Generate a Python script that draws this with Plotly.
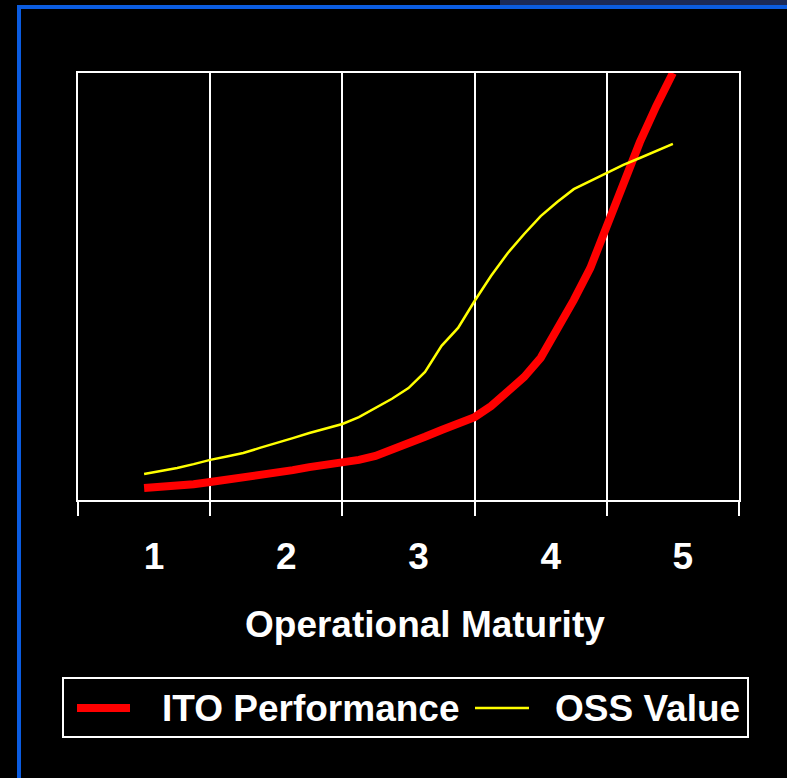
import plotly.graph_objects as go

# ---- data ----
maturity = [1.0, 1.125, 1.25, 1.375, 1.5, 1.625, 1.75, 1.875,
            2.0, 2.125, 2.25, 2.375, 2.5, 2.625, 2.75, 2.875,
            3.0, 3.125, 3.25, 3.375, 3.5, 3.625, 3.75, 3.875,
            4.0, 4.125, 4.25, 4.375, 4.5, 4.625, 4.75, 4.875, 5.0]

ito_performance = [2.8, 3.0, 3.4, 3.7, 4.2, 4.7, 5.3, 5.7,
                   6.3, 7.0, 7.7, 8.2, 8.7, 9.4, 10.3, 11.7,
                   13.1, 14.8, 16.4, 17.8, 19.4, 22.0, 25.3, 28.8,
                   33.3, 39.8, 46.8, 54.3, 64.2, 74.0, 83.8, 92.3, 100.0]

oss_value = [6.1, 6.8, 7.5, 8.4, 9.4, 10.2, 11.0, 12.2,
             13.3, 14.5, 15.7, 16.7, 17.8, 19.4, 21.5, 23.7,
             26.2, 30.0, 36.1, 40.3, 46.6, 52.5, 57.8, 62.3,
             66.5, 69.8, 72.8, 74.7, 76.6, 78.5, 80.1, 81.7, 83.4]

tick_values = [1, 2, 3, 4, 5]
tick_labels = ["1", "2", "3", "4", "5"]
x_title = "Operational Maturity"
series_names = ["ITO Performance", "OSS Value"]

# ---- layout geometry ----
W, H = 787, 778
L, R, T, B = 78, 48, 73, 278
PW, PH = W - L - R, H - T - B


def px(x):
    return (x - L) / PW


def py(y):
    return (H - B - y) / PH


FONT = "Liberation Sans, Arial, sans-serif"
FS = 37
RED = "#ff0000"
YEL = "#ffff00"
BLUE = "#0b5ce0"

fig = go.Figure()
fig.add_trace(go.Scatter(x=maturity, y=ito_performance, mode="lines",
                         name=series_names[0],
                         line=dict(color=RED, width=8), showlegend=False))
fig.add_trace(go.Scatter(x=maturity, y=oss_value, mode="lines",
                         name=series_names[1],
                         line=dict(color=YEL, width=2.5), showlegend=False))

shapes = []
# slide frame (blue) and top banner strip
shapes.append(dict(type="rect", xref="paper", yref="paper",
                   x0=px(500), x1=px(787), y0=py(5), y1=py(0),
                   line=dict(width=0), fillcolor="#1b2a58", layer="below"))
shapes.append(dict(type="rect", xref="paper", yref="paper",
                   x0=px(17), x1=px(787), y0=py(9), y1=py(5),
                   line=dict(width=0), fillcolor=BLUE))
shapes.append(dict(type="rect", xref="paper", yref="paper",
                   x0=px(17), x1=px(21), y0=py(778), y1=py(5),
                   line=dict(width=0), fillcolor=BLUE))
# legend box
shapes.append(dict(type="rect", xref="paper", yref="paper",
                   x0=px(63), x1=px(748), y0=py(737), y1=py(678),
                   line=dict(color="white", width=2), fillcolor="black"))
shapes.append(dict(type="line", xref="paper", yref="paper",
                   x0=px(77), x1=px(130), y0=py(708), y1=py(708),
                   line=dict(color=RED, width=8)))
shapes.append(dict(type="line", xref="paper", yref="paper",
                   x0=px(475), x1=px(529), y0=py(708), y1=py(708),
                   line=dict(color=YEL, width=2.5)))

annotations = [
    dict(text=x_title, xref="paper", yref="paper", x=px(425), y=py(624),
         xanchor="center", yanchor="middle", showarrow=False,
         font=dict(family=FONT, size=FS, color="white", weight="bold")),
    dict(text=series_names[0], xref="paper", yref="paper", x=px(160), y=py(708),
         xanchor="left", yanchor="middle", showarrow=False,
         font=dict(family=FONT, size=FS, color="white", weight="bold")),
    dict(text=series_names[1], xref="paper", yref="paper", x=px(553), y=py(708),
         xanchor="left", yanchor="middle", showarrow=False,
         font=dict(family=FONT, size=FS, color="white", weight="bold")),
]

fig.update_layout(
    width=W, height=H,
    margin=dict(l=L, r=R, t=T, b=B, pad=0),
    paper_bgcolor="black", plot_bgcolor="black",
    showlegend=False,
    shapes=shapes, annotations=annotations,
    xaxis=dict(range=[0.5, 5.5], tickmode="array", tickvals=tick_values,
               ticktext=tick_labels, ticks="", showgrid=False, zeroline=False,
               showline=True, linecolor="white", linewidth=2, mirror=True,
               tickfont=dict(family=FONT, size=FS, color="white", weight="bold"),
               ticklabelshift=10, ticklabelstandoff=23,
               minor=dict(tickmode="linear", tick0=0.5, dtick=1,
                          ticks="outside", ticklen=14, tickcolor="white",
                          tickwidth=2, showgrid=True, gridcolor="white",
                          gridwidth=2)),
    yaxis=dict(range=[0, 100], showticklabels=False, ticks="", showgrid=False,
               zeroline=False, showline=True, linecolor="white", linewidth=2,
               mirror=True),
)

fig.write_html("out.html",
               config={"displayModeBar": False},
               post_script="document.body.style.margin='0';"
                           "document.body.style.background='black';")
